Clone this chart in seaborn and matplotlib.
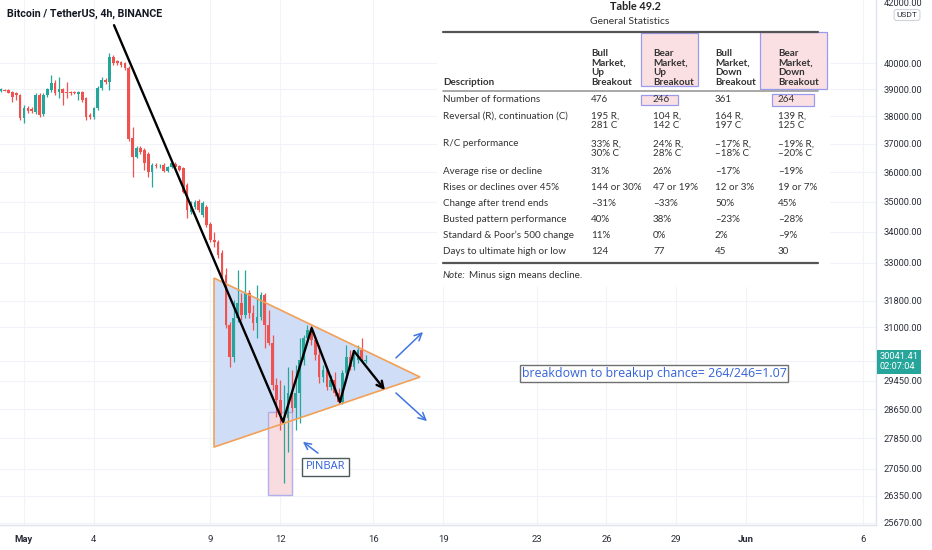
import numpy as np
import pandas as pd
import matplotlib
matplotlib.use('Agg')
import matplotlib.pyplot as plt
import matplotlib.dates as mdates
import matplotlib.transforms as mtrans
from matplotlib.patches import Rectangle, Polygon
from matplotlib.ticker import FixedLocator, FuncFormatter, NullLocator
import seaborn as sns

# 4h candles, BTC/USDT, from 2022-04-30 00:00
opens = [38930, 38970, 38970, 38900, 38860, 38780, 37930, 38300, 38270, 38150,
         38780, 38080, 38780, 38970, 39240, 38900, 39010, 38900, 38900, 38880,
         38820, 38900, 38670, 38040, 37970, 38300, 39050, 39350, 39270, 40230,
         40080, 40040, 40000, 39810, 37210, 36530, 36850, 36780, 36640, 36010,
         36250, 36220, 36250, 36040, 36180, 36290, 36220, 36150, 35560, 34640,
         34810, 35020, 34540, 34810, 34250, 33720, 33660, 33300, 32600, 31070,
         30130, 31280, 31740, 31370, 32050, 31430, 31130, 31310, 31990, 31070,
         30530, 29320, 28900, 28240, 28410, 29100, 28680, 29100, 30040, 30680,
         30920, 30620, 30190, 29550, 29750, 29270, 29460, 29100, 28850, 29670,
         30130, 29840, 30040, 30330, 30000]
highs = [39050, 39010, 39010, 38930, 38900, 38820, 38410, 38370, 38340, 38860,
         38860, 38860, 39050, 39540, 39350, 39460, 39050, 39270, 38930, 38930,
         38930, 38930, 38710, 38110, 38340, 39120, 39460, 39420, 40390, 40310,
         40120, 40080, 40040, 39880, 37610, 36930, 36930, 36850, 36710, 36320,
         36320, 36290, 36320, 36220, 36390, 36360, 36250, 36180, 35630, 35020,
         35050, 35080, 35020, 34880, 34310, 33990, 33720, 33400, 32820, 31160,
         31830, 32760, 32050, 32760, 32140, 31680, 32290, 32080, 32050, 31520,
         30770, 29520, 29460, 29320, 29840, 29750, 29900, 30680, 30770, 31070,
         31070, 30710, 30470, 29900, 29810, 29610, 29690, 29240, 29750, 30470,
         30330, 30330, 30470, 30680, 30190]
lows = [38900, 38930, 38860, 38520, 38600, 37860, 37750, 38120, 38120, 38080,
        37970, 38000, 38710, 38900, 38780, 38670, 38410, 38670, 38780, 38820,
        38600, 38520, 37860, 37900, 37900, 38230, 38970, 39200, 38970, 39920,
        39920, 39850, 39730, 37100, 35830, 36500, 36640, 36080, 35830, 35490,
        36140, 36140, 36010, 36010, 36140, 36140, 36040, 35290, 34440, 34580,
        34740, 34640, 34470, 34150, 33660, 33500, 33150, 32480, 30980, 29840,
        29980, 31160, 31220, 31280, 31280, 30920, 30680, 31220, 30390, 30470,
        29180, 28430, 28080, 26690, 27490, 28570, 28080, 28270, 29900, 30560,
        30470, 30040, 29380, 29410, 29180, 29180, 29010, 28790, 28790, 29520,
        29750, 29750, 29950, 29980, 29950]
closes = [39010, 38950, 38870, 38710, 38780, 37930, 38300, 38190, 38190, 38780,
          38040, 38780, 39010, 39240, 38860, 39010, 38860, 38860, 38860, 38870,
          38900, 38600, 37970, 37970, 38300, 39050, 39350, 39270, 40230, 40000,
          40000, 39920, 39810, 37170, 36530, 36850, 36710, 36320, 36010, 36250,
          36220, 36230, 36040, 36180, 36320, 36180, 36080, 35320, 34710, 34950,
          34980, 34710, 34950, 34210, 33720, 33660, 33240, 32540, 31070, 30130,
          31280, 31740, 31370, 32050, 31430, 31130, 31310, 31990, 31070, 30530,
          29320, 28900, 28490, 28410, 29100, 28680, 29100, 30040, 30680, 30920,
          30620, 30190, 29550, 29750, 29270, 29460, 29100, 28850, 29670, 30130,
          29840, 30130, 30330, 30100, 30041.41]

price_ticks = [25670, 26350, 27050, 27850, 28650, 29450, 30000, 31000, 31800,
               33000, 34000, 35000, 36000, 37000, 38000, 39000, 40000]
date_ticks = ['2022-05-01', '2022-05-04', '2022-05-09', '2022-05-12', '2022-05-16',
              '2022-05-19', '2022-05-23', '2022-05-26', '2022-05-29', '2022-06-01',
              '2022-06-06']
date_labels = ['May', '4', '9', '12', '16', '19', '23', '26', '29', 'Jun', '6']

# drawings on the chart
tri_dates = ['2022-05-09 03:45', '2022-05-09 03:45', '2022-05-18 00:00']
tri_prices = [32510, 27620, 29550]
trend_dates = ['2022-05-04 20:45', '2022-05-12 02:45', '2022-05-13 08:20',
               '2022-05-14 13:30', '2022-05-15 03:55', '2022-05-16 11:50']
trend_prices = [41490, 28300, 30980, 28850, 30300, 29180]

# table 49.2
row_labels = ['Number of formations', 'Reversal (R), continuation (C)', 'R/C performance',
              'Average rise or decline', 'Rises or declines over 45%',
              'Change after trend ends', 'Busted pattern performance',
              'Standard & Poor\u2019s 500 change', 'Days to ultimate high or low']
col_heads = ['Bull\nMarket,\nUp\nBreakout', 'Bear\nMarket,\nUp\nBreakout',
             'Bull\nMarket,\nDown\nBreakout', 'Bear\nMarket,\nDown\nBreakout']
bull_up = ['476', '195 R,\n281 C', '33% R,\n30% C', '31%', '144 or 30%', '\u201331%',
           '40%', '11%', '124']
bear_up = ['246', '104 R,\n142 C', '24% R,\n28% C', '26%', '47 or 19%', '\u201333%',
           '38%', '0%', '77']
bull_down = ['361', '164 R,\n197 C', '\u201317% R,\n\u201318% C', '\u201317%', '12 or 3%',
             '50%', '\u201323%', '2%', '45']
bear_down = ['264', '139 R,\n125 C', '\u201319% R,\n\u201320% C', '\u201319%', '19 or 7%',
             '45%', '\u201328%', '\u20139%', '30']

sns.set_theme(style='white')
plt.rcParams['font.family'] = ['Roboto', 'DejaVu Sans']

RED = '#ef5350'
GREEN = '#26a69a'

fig = plt.figure(figsize=(9.32, 5.5), dpi=100)
fig.patch.set_facecolor('white')
ax = fig.add_axes([0, 25 / 550, 876 / 932, 525 / 550])
ax.set_facecolor('white')
ax.set_yscale('log')

o = np.array(opens); h = np.array(highs); l = np.array(lows); c = np.array(closes)
t = mdates.date2num(pd.date_range('2022-04-30', periods=len(o), freq='4h'))
cols = np.where(c >= o, GREEN, RED)

# triangle
tt = mdates.date2num(pd.to_datetime(tri_dates))
ax.add_patch(Polygon(list(zip(tt, tri_prices)), closed=True, fc='#d0ddf7', ec='none', zorder=2))
ax.add_patch(Polygon(list(zip(tt, tri_prices)), closed=True, fc='none', ec='#f3a057', lw=1.2, zorder=5))

# pinbar highlight
pb0 = mdates.date2num(pd.Timestamp('2022-05-11 11:20'))
pb1 = mdates.date2num(pd.Timestamp('2022-05-12 12:05'))
ax.add_patch(Rectangle((pb0, 26370), pb1 - pb0, 28570 - 26370, fc='#f8d9dc', ec='#a9a9ee',
                       lw=1, alpha=0.9, zorder=2.5))

# candles
ax.vlines(t, l, h, colors=cols, lw=0.9, zorder=3)
body = np.maximum(np.abs(c - o), 18)
ax.bar(t, body, bottom=np.minimum(o, c), width=0.115, color=cols, zorder=4, linewidth=0)

# trend lines
tr = mdates.date2num(pd.to_datetime(trend_dates))
sns.lineplot(x=tr[:-1], y=trend_prices[:-1], color='black', lw=1.7, sort=False,
             estimator=None, ax=ax, zorder=6)
ax.annotate('', xy=(tr[-1], trend_prices[-1]), xytext=(tr[-2], trend_prices[-2]),
            arrowprops=dict(arrowstyle='->', color='black', lw=1.7, mutation_scale=12,
                            shrinkA=0, shrinkB=0), zorder=6)

# blue breakout arrows
blue = '#4275e2'
def d(s):
    return mdates.date2num(pd.Timestamp(s))
for (x0, y0, x1, y1) in [('2022-05-16 23:10', 30100, '2022-05-18 03:00', 30860),
                         ('2022-05-16 23:10', 29100, '2022-05-18 07:05', 28320)]:
    ax.annotate('', xy=(d(x1), y1), xytext=(d(x0), y0),
                arrowprops=dict(arrowstyle='->', color=blue, lw=1.1, mutation_scale=13,
                                shrinkA=0, shrinkB=0))
ax.annotate('', xy=(d('2022-05-12 23:20'), 27760), xytext=(d('2022-05-13 14:50'), 27460),
            arrowprops=dict(arrowstyle='->', color=blue, lw=1.1, mutation_scale=12,
                            shrinkA=0, shrinkB=0))

ax.text(d('2022-05-13 22:35'), 27100, 'PINBAR', ha='center', va='center', color='#2f5fdc',
        fontsize=8, family=['Open Sans', 'DejaVu Sans'], zorder=7,
        bbox=dict(boxstyle='square,pad=0.3', fc='white', ec='#4c5a5a', lw=1))
ax.text(d('2022-05-28 01:00'), 29650, 'breakdown to breakup chance= 264/246=1.07',
        ha='center', va='center', color='#3462d8', fontsize=8.9,
        family=['Open Sans', 'DejaVu Sans'], zorder=7,
        bbox=dict(boxstyle='square,pad=0.15', fc='white', ec='#707070', lw=1))

# axes
ax.set_xlim(d('2022-04-29 23:17'), d('2022-06-06 13:40'))
ax.set_ylim(25620, 42510)
ax.yaxis.tick_right()
ax.yaxis.set_major_locator(FixedLocator(price_ticks))
# the 30000 label sits under the live price tag
ax.yaxis.set_major_formatter(FuncFormatter(lambda v, p: '' if v == 30000 else f'{v:.2f}'))
ax.yaxis.set_minor_locator(NullLocator())
ax.set_xticks(mdates.date2num(pd.to_datetime(date_ticks)))
ax.set_xticklabels(date_labels)
ax.tick_params(axis='y', length=0, pad=5.8, labelsize=6.7, labelcolor='#2a2e39')
ax.tick_params(axis='x', length=0, pad=7, labelsize=6.8, labelcolor='#2a2e39')
for lab in ax.get_xticklabels():
    if lab.get_text() in ('May', 'Jun'):
        lab.set_fontweight('bold')
ax.grid(True, color='#f0f3fa', lw=0.8, zorder=0)
ax.set_axisbelow(True)
for s in ['top', 'left']:
    ax.spines[s].set_visible(False)
for s in ['right', 'bottom']:
    ax.spines[s].set_color('#e0e3eb')
    ax.spines[s].set_linewidth(1)
ax.set_xlabel('')
ax.set_ylabel('')

# last price label
blend = mtrans.blended_transform_factory(ax.transAxes, ax.transData)
ax.annotate(f'{closes[-1]:.2f}\n02:07:04', xy=(1, closes[-1]), xycoords=blend,
            xytext=(2.5, 5.5), textcoords='offset points', ha='left', va='top',
            color='white', fontsize=6.7, linespacing=1.15, annotation_clip=False,
            bbox=dict(boxstyle='square,pad=0.3', fc=GREEN, ec='none'), zorder=10)

fig.text(7 / 932, 1 - 14 / 550, 'Bitcoin / TetherUS, 4h, BINANCE', fontsize=7.7,
         fontweight='bold', color='#131722', va='center', ha='left')

# overlay in pixel units for the table image and the axis unit box
ov = fig.add_axes([0, 0, 1, 1], zorder=5)
ov.set_xlim(0, 932)
ov.set_ylim(550, 0)
ov.axis('off')
ov.text(884, 3, '42000.00', fontsize=6.7, color='#2a2e39', va='center', ha='left')
ov.text(907, 15, 'USDT', fontsize=6, color='#2a2e39', va='center', ha='center',
        bbox=dict(boxstyle='round,pad=0.3', fc='white', ec='#cfd3da', lw=0.8))

tf = ['Lato', 'DejaVu Sans']
fs = 7.1
ov.add_patch(Rectangle((437, 0), 393, 287, fc='white', ec='none', zorder=1))
for (x0, y0, x1, y1) in [(641, 33, 698, 86), (641, 95, 678, 105),
                         (760, 32, 827, 89), (772, 94, 814, 106)]:
    ov.add_patch(Rectangle((x0, y0), x1 - x0, y1 - y0, fc='#fbe0e3', ec='#9b9bee',
                           lw=0.9, zorder=2))
ov.text(635, 7, 'Table 49.2', family=tf, fontsize=7.8, fontweight='bold',
        color='#222222', ha='center', va='center', zorder=3)
ov.text(630, 21, 'General Statistics', family=tf, fontsize=7.5, color='#333333',
        ha='center', va='center', zorder=3)
ov.plot([443, 818], [32, 32], color='#555555', lw=1.6, zorder=3)
ov.plot([443, 818], [91, 91], color='#9a9a9a', lw=1.2, zorder=3)
ov.plot([443, 818], [263, 263], color='#555555', lw=1.6, zorder=3)
ov.text(443, 87, 'Description', family=tf, fontsize=fs, fontweight='bold',
        color='#333333', ha='left', va='bottom', zorder=3)
col_x = [591, 653, 715, 778]
for x, head in zip(col_x, col_heads):
    ov.text(x, 87, head, family=tf, fontsize=fs, fontweight='bold', color='#333333',
            ha='left', va='bottom', linespacing=1.08, zorder=3)
row_y = [100, 117, 145, 173, 188, 204, 220, 236, 252]
for y, lab in zip(row_y, row_labels):
    ov.text(443, y - 5.5, lab, family=tf, fontsize=fs, color='#333333', ha='left',
            va='top', zorder=3)
for x, vals in zip(col_x, [bull_up, bear_up, bull_down, bear_down]):
    for y, v in zip(row_y, vals):
        ov.text(x, y - 5.5, v, family=tf, fontsize=fs, color='#333333', ha='left',
                va='top', linespacing=1.02, zorder=3)
ov.text(443, 275, 'Note:', family=tf, fontsize=fs, fontstyle='italic', color='#333333',
        ha='left', va='center', zorder=3)
ov.text(469, 275, 'Minus sign means decline.', family=tf, fontsize=fs, color='#333333',
        ha='left', va='center', zorder=3)

fig.savefig('out.png', dpi=100, facecolor='white')
